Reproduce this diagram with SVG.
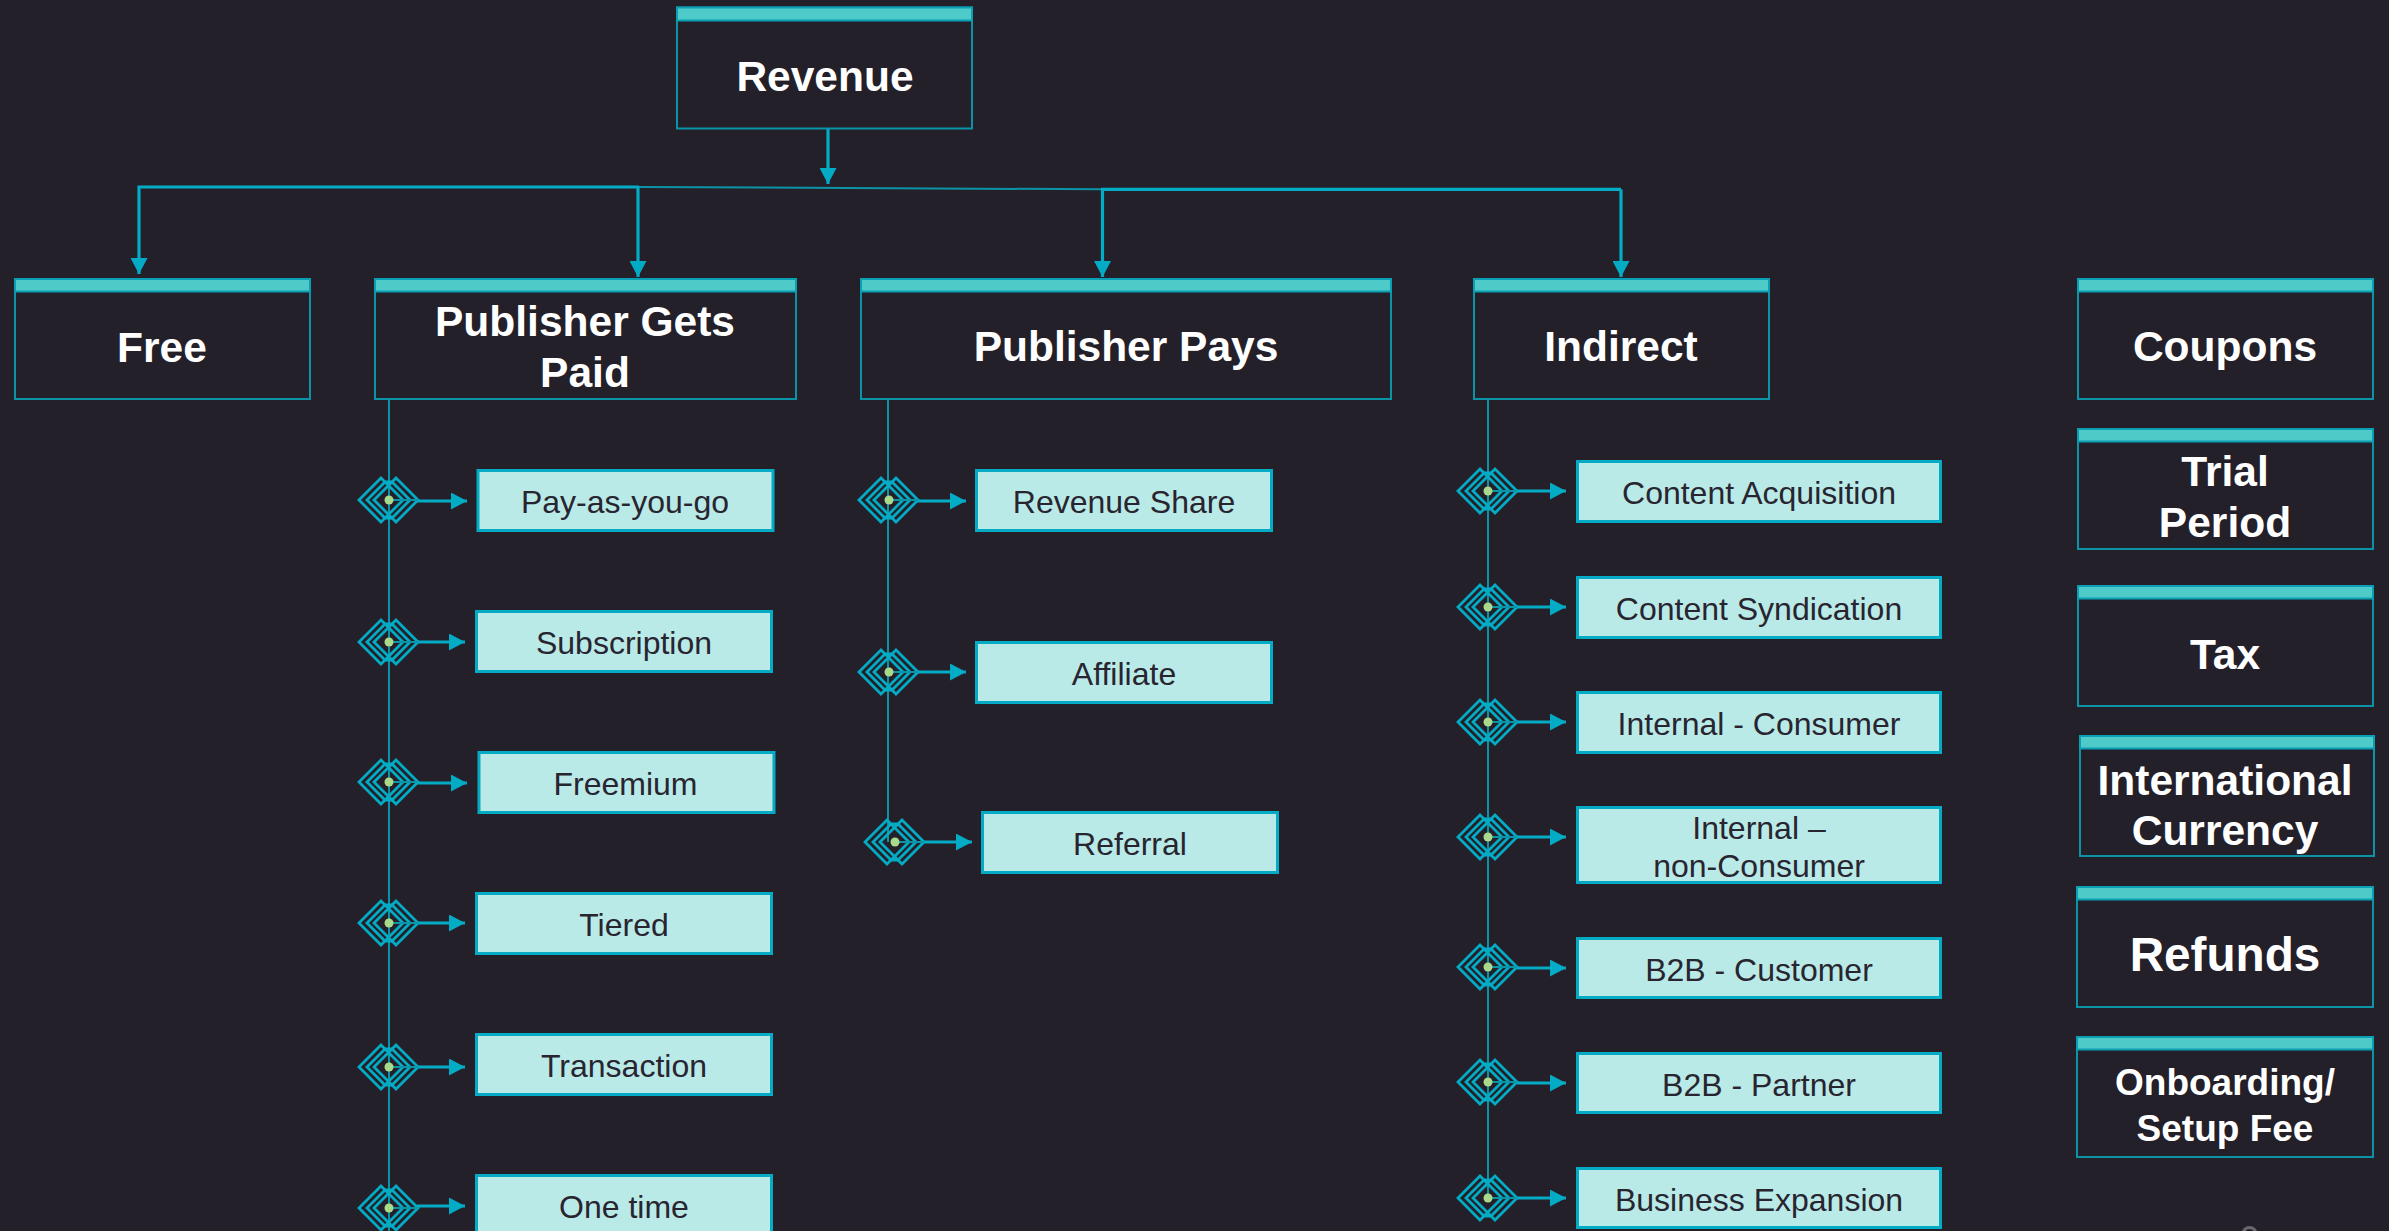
<svg xmlns="http://www.w3.org/2000/svg" width="2389" height="1231" viewBox="0 0 2389 1231">
<style>
text{font-family:"Liberation Sans",Arial,sans-serif;text-anchor:middle}
.h{fill:#fff;font-weight:700;font-size:42.5px}
.i{fill:#282530;font-size:32px}
.box{fill:#23202a;stroke:#0b93a8;stroke-width:2}
.bar{fill:#4ecbc8;stroke:#0b9fb5;stroke-width:2}
.item{fill:#b9eae7;stroke:#04abc5;stroke-width:3}
.c{fill:none;stroke:#04abc5;stroke-width:3.2}
.t{fill:none;stroke:#0b93a8;stroke-width:2}
.arr{fill:#04abc5}
.d{fill:none;stroke:#04abc5;stroke-width:2.8}
</style>
<defs>
<marker id="ah" markerUnits="userSpaceOnUse" markerWidth="17" markerHeight="17" refX="16" refY="8.5" orient="auto"><path d="M0 0L16 8.5L0 17Z" class="arr"/></marker>
<g id="ic">
<path class="d" d="M-8 -22L-30 0L-8 22L14 0Z"/>
<path class="d" d="M7 -22L29 0L7 22L-15 0Z"/>
<path class="d" d="M-4 -18L-22 0L-4 18L3 18L21 0L3 -18Z"/>
<path class="t" d="M0 0H29"/>
<circle r="4.5" fill="#a9d98b"/>
</g>
</defs>
<rect width="2389" height="1231" fill="#23202a"/>
<g id="connectors">
<path class="c" d="M828 127V184" marker-end="url(#ah)"/>
<path class="t" d="M639 187L1102 189.3"/>
<path class="c" d="M639 187H139V274" marker-end="url(#ah)"/>
<path class="c" d="M638 187V277" marker-end="url(#ah)"/>
<path class="c" d="M1621 189.3H1102.500V277" marker-end="url(#ah)"/>
<path class="c" d="M1621 189.300V277" marker-end="url(#ah)"/>
<path class="t" d="M389 400V1231"/>
<path class="t" d="M888 398V842"/>
<path class="t" d="M1488 400V1198"/>
<path class="c" d="M417 501H467" marker-end="url(#ah)"/>
<path class="c" d="M417 642H465" marker-end="url(#ah)"/>
<path class="c" d="M417 783H467" marker-end="url(#ah)"/>
<path class="c" d="M417 923H465" marker-end="url(#ah)"/>
<path class="c" d="M417 1067H465" marker-end="url(#ah)"/>
<path class="c" d="M417 1206H465" marker-end="url(#ah)"/>
<path class="c" d="M917 501H966" marker-end="url(#ah)"/>
<path class="c" d="M917 672H966" marker-end="url(#ah)"/>
<path class="c" d="M923 842H972" marker-end="url(#ah)"/>
<path class="c" d="M1517 491H1566" marker-end="url(#ah)"/>
<path class="c" d="M1517 607H1566" marker-end="url(#ah)"/>
<path class="c" d="M1517 722H1566" marker-end="url(#ah)"/>
<path class="c" d="M1517 837H1566" marker-end="url(#ah)"/>
<path class="c" d="M1517 968H1566" marker-end="url(#ah)"/>
<path class="c" d="M1517 1083H1566" marker-end="url(#ah)"/>
<path class="c" d="M1517 1198H1566" marker-end="url(#ah)"/>
</g>
<g id="icons">
<use href="#ic" x="389" y="500"/><use href="#ic" x="389" y="642"/><use href="#ic" x="389" y="782"/><use href="#ic" x="389" y="923"/><use href="#ic" x="389" y="1067"/><use href="#ic" x="389" y="1208"/>
<use href="#ic" x="889" y="500"/><use href="#ic" x="889" y="672"/><use href="#ic" x="895" y="842"/>
<use href="#ic" x="1488" y="491"/><use href="#ic" x="1488" y="607"/><use href="#ic" x="1488" y="722"/><use href="#ic" x="1488" y="837"/><use href="#ic" x="1488" y="967"/><use href="#ic" x="1488" y="1082"/><use href="#ic" x="1488" y="1198"/>
</g>
<g id="n-revenue"><rect class="box" x="677" y="7.500" width="295" height="121"/><rect class="bar" x="677" y="7.500" width="295" height="13"/><text class="h" x="825" y="91">Revenue</text></g>
<g id="n-free"><rect class="box" x="15" y="279" width="295" height="120"/><rect class="bar" x="15" y="279" width="295" height="12.500"/><text class="h" x="162" y="362">Free</text></g>
<g id="n-gets-paid"><rect class="box" x="375" y="279" width="421" height="120"/><rect class="bar" x="375" y="279" width="421" height="12.500"/><text class="h" x="585" y="336">Publisher Gets</text><text class="h" x="585" y="387">Paid</text></g>
<g id="n-pays"><rect class="box" x="861" y="279" width="530" height="120"/><rect class="bar" x="861" y="279" width="530" height="12.500"/><text class="h" x="1126" y="361">Publisher Pays</text></g>
<g id="n-indirect"><rect class="box" x="1474" y="279" width="295" height="120"/><rect class="bar" x="1474" y="279" width="295" height="12.500"/><text class="h" x="1621" y="361">Indirect</text></g>
<g id="n-coupons"><rect class="box" x="2078" y="279" width="295" height="120"/><rect class="bar" x="2078" y="279" width="295" height="12.500"/><text class="h" x="2225" y="361">Coupons</text></g>
<g id="n-trial"><rect class="box" x="2078" y="429" width="295" height="120"/><rect class="bar" x="2078" y="429" width="295" height="12.500"/><text class="h" x="2225" y="486">Trial</text><text class="h" x="2225" y="537">Period</text></g>
<g id="n-tax"><rect class="box" x="2078" y="586" width="295" height="120"/><rect class="bar" x="2078" y="586" width="295" height="12.500"/><text class="h" x="2225" y="669">Tax</text></g>
<g id="n-intl"><rect class="box" x="2080" y="736" width="294" height="120"/><rect class="bar" x="2080" y="736" width="294" height="12.500"/><text class="h" x="2225" y="795">International</text><text class="h" x="2225" y="845">Currency</text></g>
<g id="n-refunds"><rect class="box" x="2077" y="887" width="296" height="120"/><rect class="bar" x="2077" y="887" width="296" height="12.500"/><text class="h" x="2225" y="971" style="font-size:47.7px">Refunds</text></g>
<g id="n-onboarding"><rect class="box" x="2077" y="1037" width="296" height="120"/><rect class="bar" x="2077" y="1037" width="296" height="12.500"/><text class="h" x="2225" y="1095" style="font-size:37px">Onboarding/</text><text class="h" x="2225" y="1141" style="font-size:37px">Setup Fee</text></g>
<g id="i-payg"><rect class="item" x="478" y="470.500" width="295" height="60"/><text class="i" x="625" y="513">Pay-as-you-go</text></g>
<g id="i-sub"><rect class="item" x="476.500" y="611.500" width="295" height="60"/><text class="i" x="624" y="654">Subscription</text></g>
<g id="i-free"><rect class="item" x="479" y="752.500" width="295" height="60"/><text class="i" x="625.500" y="795">Freemium</text></g>
<g id="i-tier"><rect class="item" x="476.500" y="893.500" width="295" height="60"/><text class="i" x="624" y="936">Tiered</text></g>
<g id="i-trans"><rect class="item" x="476.500" y="1034.500" width="295" height="60"/><text class="i" x="624" y="1077">Transaction</text></g>
<g id="i-one"><rect class="item" x="476.500" y="1175.500" width="295" height="60"/><text class="i" x="624" y="1218">One time</text></g>
<g id="i-rev"><rect class="item" x="976.500" y="470.500" width="295" height="60"/><text class="i" x="1124" y="513">Revenue Share</text></g>
<g id="i-aff"><rect class="item" x="976.500" y="642.500" width="295" height="60"/><text class="i" x="1124" y="685">Affiliate</text></g>
<g id="i-ref"><rect class="item" x="982.500" y="812.500" width="295" height="60"/><text class="i" x="1130" y="855">Referral</text></g>
<g id="i-acq"><rect class="item" x="1577.500" y="461.500" width="363" height="60"/><text class="i" x="1759" y="504">Content Acquisition</text></g>
<g id="i-syn"><rect class="item" x="1577.500" y="577.500" width="363" height="60"/><text class="i" x="1759" y="620">Content Syndication</text></g>
<g id="i-con"><rect class="item" x="1577.500" y="692.500" width="363" height="60"/><text class="i" x="1759" y="735">Internal - Consumer</text></g>
<g id="i-non"><rect class="item" x="1577.500" y="807.500" width="363" height="75"/><text class="i" x="1759" y="839">Internal –</text><text class="i" x="1759" y="877">non-Consumer</text></g>
<g id="i-b2bc"><rect class="item" x="1577.500" y="938.500" width="363" height="59"/><text class="i" x="1759" y="981">B2B - Customer</text></g>
<g id="i-b2bp"><rect class="item" x="1577.500" y="1053.500" width="363" height="59"/><text class="i" x="1759" y="1096">B2B - Partner</text></g>
<g id="i-exp"><rect class="item" x="1577.500" y="1168.500" width="363" height="59"/><text class="i" x="1759" y="1211">Business Expansion</text></g>
<circle cx="2249.500" cy="1234" r="6.500" fill="none" stroke="#6b6770" stroke-width="3"/>
</svg>
